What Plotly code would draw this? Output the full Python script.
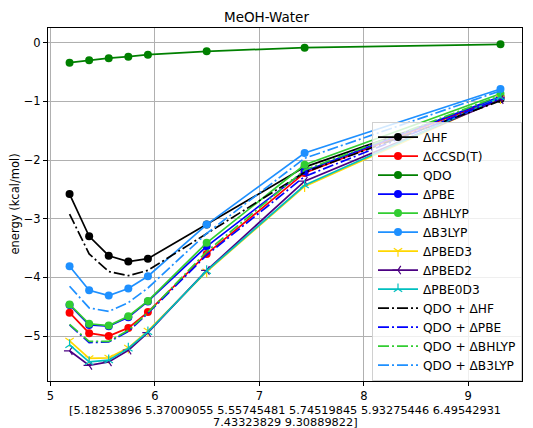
import plotly.graph_objects as go

x = [5.18253896, 5.37009055, 5.55745481, 5.74519845, 5.93275446, 6.49542931, 7.43323829, 9.30889822]

d_hf = [-2.58, -3.30, -3.63, -3.73, -3.68, -3.10, -2.12, -0.96]
d_ccsdt = [-4.60, -4.95, -5.00, -4.86, -4.59, -3.60, -2.22, -0.93]
qdo = [-0.34, -0.30, -0.265, -0.238, -0.204, -0.147, -0.085, -0.028]
d_pbe = [-4.47, -4.81, -4.83, -4.68, -4.41, -3.47, -2.19, -0.92]
d_bhlyp = [-4.46, -4.79, -4.82, -4.66, -4.40, -3.41, -2.08, -0.87]
d_b3lyp = [-3.81, -4.22, -4.31, -4.19, -3.98, -3.10, -1.88, -0.79]
d_pbed3 = [-5.08, -5.38, -5.37, -5.20, -4.91, -3.90, -2.45, -0.95]
d_pbed2 = [-5.25, -5.50, -5.44, -5.24, -4.94, -3.88, -2.36, -0.97]
d_pbe0d3 = [-5.15, -5.44, -5.41, -5.21, -4.93, -3.89, -2.43, -0.93]
qdo_hf = [-2.92, -3.60, -3.90, -3.97, -3.88, -3.25, -2.21, -0.99]
qdo_pbe = [-4.81, -5.11, -5.10, -4.92, -4.61, -3.62, -2.28, -0.95]
qdo_bhlyp = [-4.80, -5.09, -5.09, -4.90, -4.60, -3.56, -2.17, -0.90]
qdo_b3lyp = [-4.15, -4.52, -4.58, -4.43, -4.18, -3.25, -1.97, -0.82]

x_ticks = [5, 6, 7, 8, 9]
y_ticks = [0, -1, -2, -3, -4, -5]

xlabel_lines = ["[5.18253896 5.37009055 5.55745481 5.74519845 5.93275446 6.49542931",
                "7.43323829 9.30889822]"]
ylabel = "energy (kcal/mol)"

FONT = "DejaVu Sans"
LW = 1.7
DASHDOT = "11px,3px,2px,3px"

fig = go.Figure()

def add_marked(name, y, color, symbol="circle", size=8, open_marker=False):
    if open_marker:
        marker = dict(symbol=symbol, size=size, color=color, line=dict(color=color, width=1.2))
    else:
        marker = dict(symbol=symbol, size=size, color=color, line=dict(width=0))
    fig.add_trace(go.Scatter(x=x, y=y, name=name, mode="lines+markers",
                             line=dict(color=color, width=LW), marker=marker))

def add_dashdot(name, y, color):
    fig.add_trace(go.Scatter(x=x, y=y, name=name, mode="lines",
                             line=dict(color=color, width=LW, dash=DASHDOT)))

add_marked("ΔHF", d_hf, "black")
add_marked("ΔCCSD(T)", d_ccsdt, "red")
add_marked("QDO", qdo, "green")
add_marked("ΔPBE", d_pbe, "blue")
add_marked("ΔBHLYP", d_bhlyp, "limegreen")
add_marked("ΔB3LYP", d_b3lyp, "dodgerblue")
add_marked("ΔPBED3", d_pbed3, "gold", symbol="y-down-open", size=7, open_marker=True)
add_marked("ΔPBED2", d_pbed2, "indigo", symbol="y-left-open", size=7, open_marker=True)
add_marked("ΔPBE0D3", d_pbe0d3, "#00bfbf", symbol="y-up-open", size=7, open_marker=True)
add_dashdot("QDO + ΔHF", qdo_hf, "black")
add_dashdot("QDO + ΔPBE", qdo_pbe, "blue")
add_dashdot("QDO + ΔBHLYP", qdo_bhlyp, "limegreen")
add_dashdot("QDO + ΔB3LYP", qdo_b3lyp, "dodgerblue")

axis_common = dict(showline=True, linecolor="black", linewidth=1, mirror=True,
                   ticks="outside", ticklen=4, tickcolor="black", tickwidth=1,
                   showgrid=True, gridcolor="#b0b0b0", gridwidth=1, zeroline=False,
                   automargin=False,
                   tickfont=dict(family=FONT, size=11.5, color="black"))

H_PLOT = 428 - 28 - 47
W_PLOT = 533 - 48 - 11

annotations = [
    dict(text=xlabel_lines[0], xref="paper", yref="paper", x=0.5, y=-(410 - 381) / H_PLOT,
         xanchor="center", yanchor="middle", showarrow=False, font=dict(family=FONT, size=11.3)),
    dict(text=xlabel_lines[1], xref="paper", yref="paper", x=0.5, y=-(422 - 381) / H_PLOT,
         xanchor="center", yanchor="middle", showarrow=False, font=dict(family=FONT, size=11.3)),
    dict(text=ylabel, xref="paper", yref="paper", x=-(48 - 14) / W_PLOT, y=0.5, textangle=-90,
         xanchor="center", yanchor="middle", showarrow=False, font=dict(family=FONT, size=11.5)),
]

fig.update_layout(
    width=533, height=428,
    margin=dict(l=48, r=11, t=28, b=47),
    paper_bgcolor="white", plot_bgcolor="white",
    font=dict(family=FONT, size=11.5, color="black"),
    title=dict(text="MeOH-Water", x=0.5, xanchor="center", y=1 - 17 / 428, yanchor="middle",
               font=dict(family=FONT, size=13.5, color="black")),
    xaxis=dict(range=[4.976, 9.515], tickvals=x_ticks, ticktext=[str(v) for v in x_ticks],
               **axis_common),
    yaxis=dict(range=[-5.765, 0.25], tickvals=y_ticks, ticktext=["0", "\u22121", "\u22122", "\u22123", "\u22124", "\u22125"],
               **axis_common),
    legend=dict(x=1.0, y=0.735, xanchor="right", yanchor="top",
                bgcolor="rgba(255,255,255,0.8)", bordercolor="#d0d0d0", borderwidth=1,
                font=dict(family=FONT, size=12.2, color="black"), itemwidth=40, tracegroupgap=0),
    annotations=annotations,
    showlegend=True,
)

fig.write_html("out.html")
